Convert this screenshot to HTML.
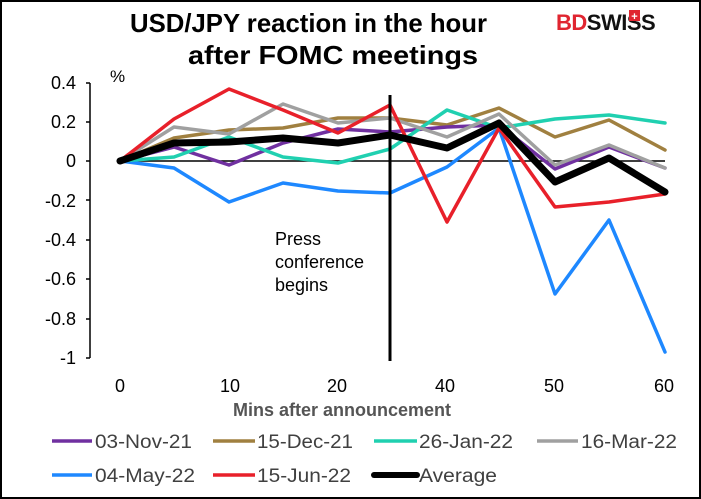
<!DOCTYPE html>
<html><head><meta charset="utf-8"><style>
body{margin:0;background:#fff}
svg{display:block}
text{font-family:"Liberation Sans",Arial,sans-serif}
</style></head><body>
<svg width="701" height="499" viewBox="0 0 701 499" xmlns="http://www.w3.org/2000/svg">
<rect x="1" y="1" width="699" height="497" fill="#fff" stroke="#000" stroke-width="2"/>
<text x="130" y="32" font-size="26" font-weight="bold" textLength="357" lengthAdjust="spacingAndGlyphs">USD/JPY reaction in the hour</text>
<text x="188" y="64" font-size="26" font-weight="bold" textLength="290" lengthAdjust="spacingAndGlyphs">after FOMC meetings</text>
<text x="556" y="30" font-size="22" font-weight="bold" fill="#e02530" letter-spacing="-0.5">BD<tspan fill="#111">SWISS</tspan></text>
<rect x="629" y="10" width="11" height="11" fill="#e02530"/>
<text x="634.5" y="20" font-size="11" fill="#fff" text-anchor="middle" font-weight="bold">+</text>
<g font-size="18" text-anchor="end" fill="#000">
<text x="76" y="89">0.4</text><text x="76" y="128">0.2</text><text x="76" y="167">0</text>
<text x="76" y="207">-0.2</text><text x="76" y="246">-0.4</text><text x="76" y="285">-0.6</text>
<text x="76" y="325">-0.8</text><text x="76" y="364">-1</text>
</g>
<text x="110" y="82" font-size="17">%</text>
<path d="M90 83V358M86 83H90M86 122H90M86 161H90M86 200H90M86 240H90M86 279H90M86 319H90M86 358H90" stroke="#000" stroke-width="1.5" fill="none"/>
<line x1="120" y1="161" x2="665" y2="161" stroke="#000" stroke-width="1.5"/>
<g font-size="18" text-anchor="middle">
<text x="120" y="392">0</text><text x="230" y="392">10</text><text x="337" y="392">20</text>
<text x="445" y="392">40</text><text x="554" y="392">50</text><text x="664" y="392">60</text>
</g>
<text x="342" y="416" font-size="18" font-weight="bold" fill="#555" text-anchor="middle">Mins after announcement</text>
<g font-size="18" fill="#000">
<text x="275" y="245">Press</text><text x="275" y="268">conference</text><text x="275" y="291">begins</text>
</g>
<g fill="none" stroke-linejoin="round" stroke-linecap="round" stroke-width="3.5">
<polyline stroke="#1e88ff" points="120,161 174,168 229,202 283,183 338,191 390,193 447,167 499,128 555,294 609,220 665,352"/>
<polyline stroke="#a08040" points="120,161 174,138 229,130 283,128 338,118 390,118 447,125 499,108 555,137 609,120 665,150"/>
<polyline stroke="#7030a0" points="120,161 174,147 229,165 283,143 338,129 390,132 447,127 499,125 555,169 609,147 665,168"/>
<polyline stroke="#20d0b0" points="120,161 174,157 229,137 283,157 338,163 390,149 447,110 499,128 555,119 609,115 665,123"/>
<polyline stroke="#a0a0a0" points="120,161 174,127 229,134 283,104 338,123 390,118 447,137 499,114 555,165 609,145 665,168"/>
<polyline stroke="#e8202a" points="120,161 174,119 229,89 283,110 338,133 390,105 447,222 499,128 555,207 609,202 665,194"/>
<polyline stroke="#000" stroke-width="7" points="120,161 174,143 229,142 283,138 338,143 390,135 447,148 499,123 555,182 609,158 665,192"/>
</g>
<line x1="390" y1="95" x2="390" y2="361" stroke="#000" stroke-width="3"/>
<g font-size="19" fill="#404040">
<line x1="52" y1="441" x2="92" y2="441" stroke="#7030a0" stroke-width="3.5"/><text x="95" y="448" textLength="97" lengthAdjust="spacingAndGlyphs">03-Nov-21</text>
<line x1="213" y1="441" x2="255" y2="441" stroke="#a08040" stroke-width="3.5"/><text x="257" y="448" textLength="96" lengthAdjust="spacingAndGlyphs">15-Dec-21</text>
<line x1="374" y1="441" x2="417" y2="441" stroke="#20d0b0" stroke-width="3.5"/><text x="419" y="448" textLength="94" lengthAdjust="spacingAndGlyphs">26-Jan-22</text>
<line x1="537" y1="441" x2="578" y2="441" stroke="#a0a0a0" stroke-width="3.5"/><text x="581" y="448" textLength="96" lengthAdjust="spacingAndGlyphs">16-Mar-22</text>
<line x1="52" y1="475" x2="92" y2="475" stroke="#1e88ff" stroke-width="3.5"/><text x="95" y="482" textLength="100" lengthAdjust="spacingAndGlyphs">04-May-22</text>
<line x1="213" y1="475" x2="255" y2="475" stroke="#e8202a" stroke-width="3.5"/><text x="257" y="482" textLength="94" lengthAdjust="spacingAndGlyphs">15-Jun-22</text>
<line x1="374" y1="475" x2="417" y2="475" stroke="#000" stroke-width="6" stroke-linecap="round"/><text x="419" y="482" textLength="78" lengthAdjust="spacingAndGlyphs">Average</text>
</g>
</svg>
</body></html>
